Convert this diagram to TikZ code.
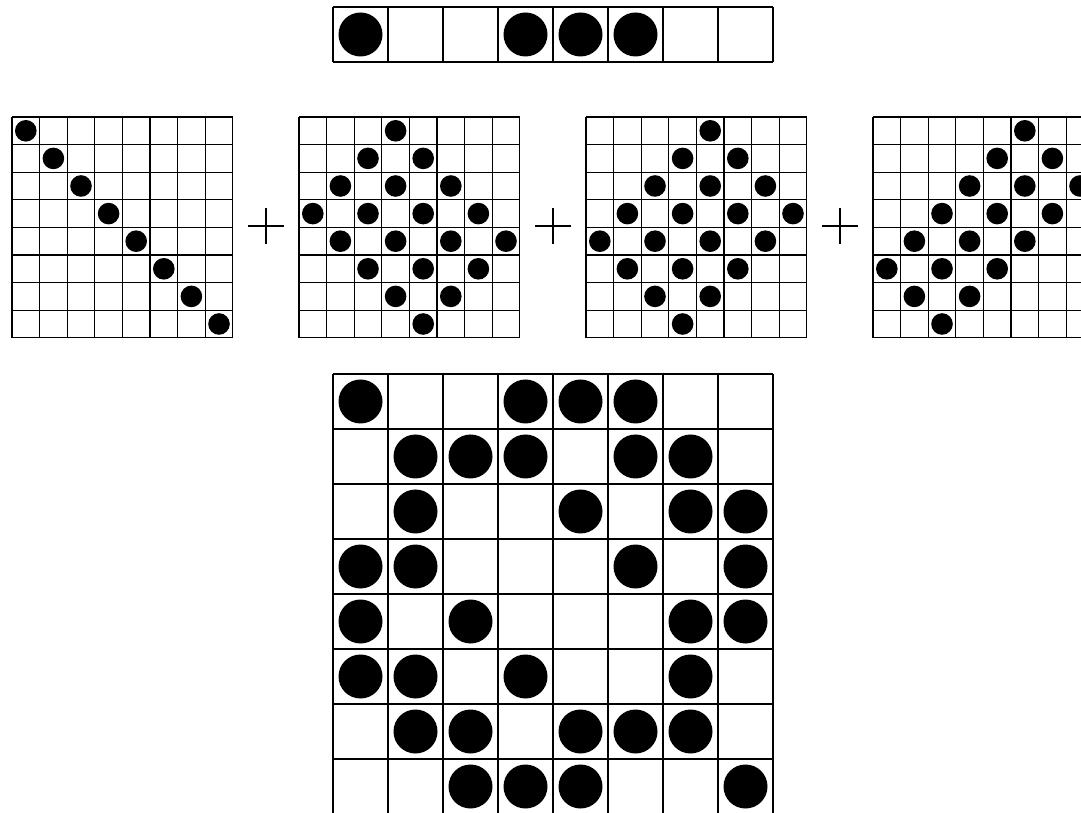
\documentclass[tikz,border=0pt]{standalone}
\begin{document}
\begin{tikzpicture}[x=0.02cm, y=-0.02cm,
  gridline/.style={line width=0.7pt},
  stone/.style={fill=black},
  plussign/.style={line width=0.8pt}]
\useasboundingbox (0,0) rectangle (1081,813);
\clip (0,0) rectangle (1081,813);

% top row
\begin{scope}[shift={(333,7)}]
\foreach \i in {0,...,8} \draw[gridline] ({\i*55},0) -- ({\i*55},55);
\foreach \i in {0,1} \draw[gridline] (0,{\i*55}) -- (440,{\i*55});
\foreach \c in {0,3,4,5} \fill[stone] ({(\c+0.5)*55},27.5) circle[radius=22];
\end{scope}

% small grids
\foreach \gx in {12,299,586,873} {
  \begin{scope}[shift={(\gx,117)}]
  \foreach \i in {0,...,8} {
    \draw[gridline] ({\i*27.6},0) -- ({\i*27.6},220.8);
    \draw[gridline] (0,{\i*27.6}) -- (220.8,{\i*27.6});
  }
  \end{scope}
}
\begin{scope}[shift={(12,117)}]
\foreach \r in {0,...,7} \fill[stone] ({(\r+0.5)*27.6},{(\r+0.5)*27.6}) circle[radius=10.8];
\end{scope}
\begin{scope}[shift={(299,117)}]
\foreach \r/\c in {0/3,1/2,1/4,2/1,2/3,2/5,3/0,3/2,3/4,3/6,4/1,4/3,4/5,4/7,5/2,5/4,5/6,6/3,6/5,7/4}
  \fill[stone] ({(\c+0.5)*27.6},{(\r+0.5)*27.6}) circle[radius=10.8];
\end{scope}
\begin{scope}[shift={(586,117)}]
\foreach \r/\c in {0/4,1/3,1/5,2/2,2/4,2/6,3/1,3/3,3/5,3/7,4/0,4/2,4/4,4/6,5/1,5/3,5/5,6/2,6/4,7/3}
  \fill[stone] ({(\c+0.5)*27.6},{(\r+0.5)*27.6}) circle[radius=10.8];
\end{scope}
\begin{scope}[shift={(873,117)}]
\foreach \r/\c in {0/5,1/4,1/6,2/3,2/5,2/7,3/2,3/4,3/6,4/1,4/3,4/5,5/0,5/2,5/4,6/1,6/3,7/2}
  \fill[stone] ({(\c+0.5)*27.6},{(\r+0.5)*27.6}) circle[radius=10.8];
\end{scope}

% plus signs
\foreach \px in {266,553,840} {
  \draw[plussign] (\px-18,226) -- (\px+18,226);
  \draw[plussign] (\px,208) -- (\px,244);
}

% result grid
\begin{scope}[shift={(333,374)}]
\foreach \i in {0,...,8} {
  \draw[gridline] ({\i*55},0) -- ({\i*55},440);
  \draw[gridline] (0,{\i*55}) -- (440,{\i*55});
}
\foreach \r/\c in {0/0,0/3,0/4,0/5,1/1,1/2,1/3,1/5,1/6,2/1,2/4,2/6,2/7,3/0,3/1,3/5,3/7,
                   4/0,4/2,4/6,4/7,5/0,5/1,5/3,5/6,6/1,6/2,6/4,6/5,6/6,7/2,7/3,7/4,7/7}
  \fill[stone] ({(\c+0.5)*55},{(\r+0.5)*55}) circle[radius=22];
\end{scope}
\end{tikzpicture}
\end{document}
